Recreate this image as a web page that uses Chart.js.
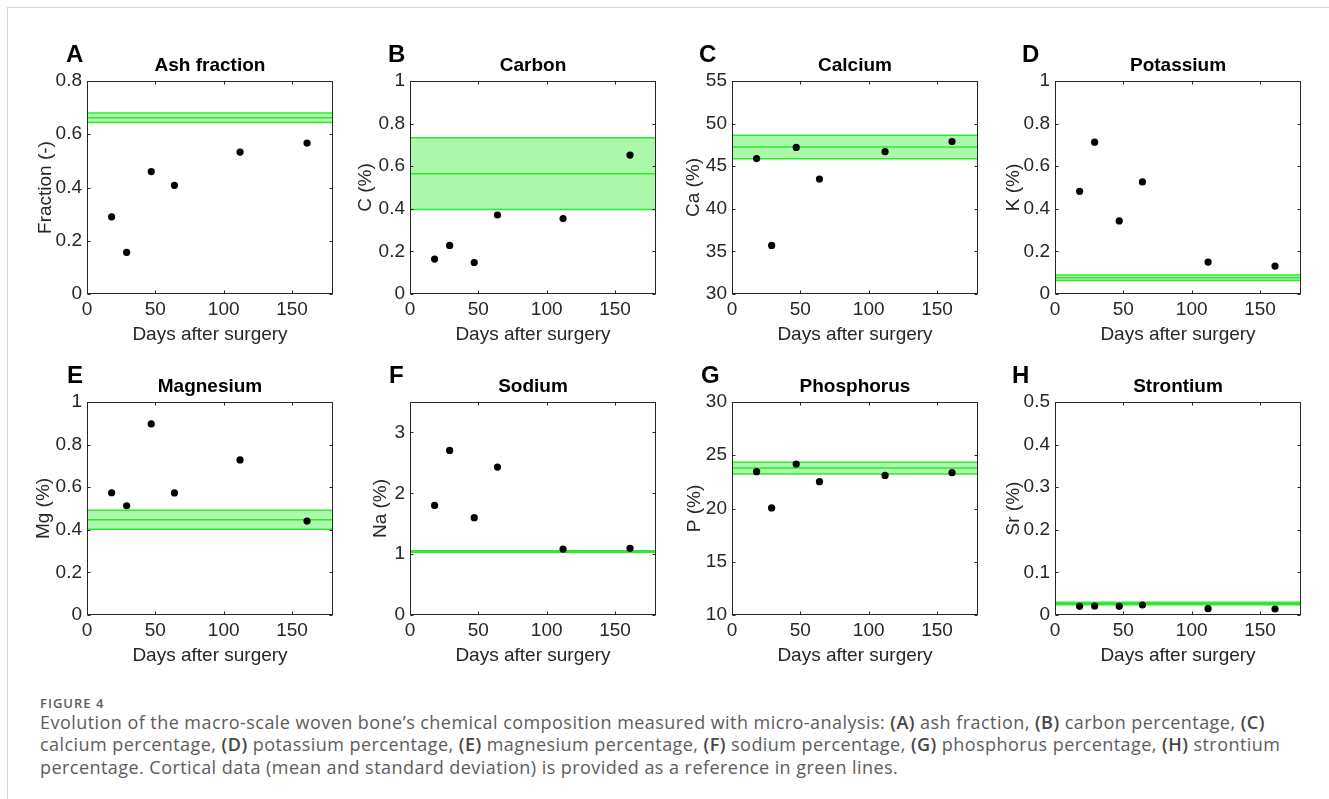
<!DOCTYPE html>
<html>
<head>
<meta charset="utf-8">
<script src="https://cdn.jsdelivr.net/npm/chart.js@4.4.0/dist/chart.umd.min.js"></script>
<style>
html,body{margin:0;padding:0;background:#fff;}
body{width:1329px;height:799px;position:relative;overflow:hidden;}
#frame{position:absolute;left:7px;top:7px;width:1340px;height:810px;border-top:1px solid #d6d6d6;border-left:1px solid #d6d6d6;}
canvas{position:absolute;}
.letter{position:absolute;font:bold 24px/24px 'Liberation Sans',Arial,sans-serif;color:#000;}
#capfig{position:absolute;left:40px;top:697px;font:600 13px/13px 'Open Sans',sans-serif;letter-spacing:1px;color:#5c5c5c;white-space:nowrap;}
#captxt{position:absolute;left:40px;top:710.5px;font:400 18px/22.5px 'Open Sans',sans-serif;letter-spacing:0.45px;color:#5c5c5c;white-space:nowrap;}
#captxt b{font-weight:600;color:#454545;}
</style>
</head>
<body>
<div id="frame"></div>
<div id="capfig">FIGURE 4</div>
<div id="captxt">Evolution of the macro-scale woven bone’s chemical composition measured with micro-analysis: <b>(A)</b> ash fraction, <b>(B)</b> carbon percentage, <b>(C)</b><br>calcium percentage, <b>(D)</b> potassium percentage, <b>(E)</b> magnesium percentage, <b>(F)</b> sodium percentage, <b>(G)</b> phosphorus percentage, <b>(H)</b> strontium<br>percentage. Cortical data (mean and standard deviation) is provided as a reference in green lines.</div>
<script>
// ---------------- DATA ----------------
const days = [18, 29, 47, 64, 112, 161];
const xTicks = [0, 50, 100, 150];
const xLabel = 'Days after surgery';

const ashFraction = [0.290, 0.156, 0.460, 0.408, 0.533, 0.567];
const ashRef = [0.662, 0.018];           // [mean, sd]
const ashTicks = [0, 0.2, 0.4, 0.6, 0.8];

const carbon = [0.164, 0.228, 0.148, 0.371, 0.354, 0.652];
const carbonRef = [0.565, 0.168];
const carbonTicks = [0, 0.2, 0.4, 0.6, 0.8, 1];

const calcium = [45.9, 35.7, 47.2, 43.5, 46.7, 47.9];
const calciumRef = [47.25, 1.37];
const calciumTicks = [30, 35, 40, 45, 50, 55];

const potassium = [0.482, 0.713, 0.343, 0.526, 0.150, 0.131];
const potassiumRef = [0.076, 0.013];
const potassiumTicks = [0, 0.2, 0.4, 0.6, 0.8, 1];

const magnesium = [0.574, 0.513, 0.897, 0.573, 0.728, 0.441];
const magnesiumRef = [0.447, 0.045];
const magnesiumTicks = [0, 0.2, 0.4, 0.6, 0.8, 1];

const sodium = [1.80, 2.705, 1.60, 2.43, 1.084, 1.095];
const sodiumRef = [1.045, 0.012];
const sodiumTicks = [0, 1, 2, 3];

const phosphorus = [23.46, 20.05, 24.18, 22.52, 23.11, 23.36];
const phosphorusRef = [23.8, 0.55];
const phosphorusTicks = [10, 15, 20, 25, 30];

const strontium = [0.0203, 0.0211, 0.0203, 0.0235, 0.0149, 0.0141];
const strontiumRef = [0.027, 0.003];
const strontiumTicks = [0, 0.1, 0.2, 0.3, 0.4, 0.5];

const panelLetters = ['A', 'B', 'C', 'D', 'E', 'F', 'G', 'H'];
const panelTitles = ['Ash fraction', 'Carbon', 'Calcium', 'Potassium', 'Magnesium', 'Sodium', 'Phosphorus', 'Strontium'];
const yLabels = ['Fraction (-)', 'C (%)', 'Ca (%)', 'K (%)', 'Mg (%)', 'Na (%)', 'P (%)', 'Sr (%)'];
const seriesList = [ashFraction, carbon, calcium, potassium, magnesium, sodium, phosphorus, strontium];
const refList = [ashRef, carbonRef, calciumRef, potassiumRef, magnesiumRef, sodiumRef, phosphorusRef, strontiumRef];
const tickList = [ashTicks, carbonTicks, calciumTicks, potassiumTicks, magnesiumTicks, sodiumTicks, phosphorusTicks, strontiumTicks];
const yRanges = [[0, 0.8], [0, 1], [30, 55], [0, 1], [0, 1], [0, 3.5], [10, 30], [0, 0.5]];
const xRange = [0, 180];

// ---------------- LAYOUT ----------------
const PLOT_LEFT = [87, 410, 732, 1055];
const PLOT_W = 246;
const ROW_TOP = [81, 402];
const PLOT_H = 213;
const LABEL_X = [45, 365, 693, 1013, 43, 380, 694, 1013];
const LETTER_X = [66, 388, 699, 1022, 67, 389, 701, 1012];
const LETTER_YC = [54, 374.5];
const X_AXIS_H = 52;

const FONT = "'Liberation Sans', Arial, Helvetica, sans-serif";
const AXIS_COLOR = '#262626';
const GREEN_LINE = '#2fe82f';
const GREEN_FILL = 'rgba(0,235,0,0.33)';

const boxPlugin = {
  id: 'matlabBox',
  afterDatasetsDraw(chart) {
    const {ctx, chartArea: {left, right, top, bottom}, scales: {x, y}} = chart;
    ctx.save();
    ctx.strokeStyle = AXIS_COLOR;
    ctx.lineWidth = 1;
    const L = Math.round(left) + 0.5, R = Math.round(right) - 0.5;
    const T = Math.round(top) + 0.5, B = Math.round(bottom) - 0.5;
    ctx.strokeRect(L, T, R - L, B - T);
    ctx.beginPath();
    x.ticks.forEach(t => {
      const px = Math.round(x.getPixelForValue(t.value)) + 0.5;
      ctx.moveTo(px, B); ctx.lineTo(px, B - 3);
      ctx.moveTo(px, T); ctx.lineTo(px, T + 3);
    });
    y.ticks.forEach(t => {
      const py = Math.round(y.getPixelForValue(t.value)) + 0.5;
      ctx.moveTo(L, py); ctx.lineTo(L + 3, py);
      ctx.moveTo(R, py); ctx.lineTo(R - 3, py);
    });
    ctx.stroke();
    ctx.restore();
  }
};

function fmt(v) { return String(Number(v.toFixed(4))); }

function makePanel(i) {
  const row = Math.floor(i / 4), col = i % 4;
  const plotLeft = PLOT_LEFT[col];
  const plotRight = plotLeft + PLOT_W;
  const plotTop = ROW_TOP[row];
  const canvasLeft = Math.round(LABEL_X[i] - 11.4);
  const canvasTop = plotTop - 41;
  const W = plotRight + 10 - canvasLeft;
  const H = 41 + PLOT_H + X_AXIS_H;
  const yAxisW = plotLeft - canvasLeft;

  const cv = document.createElement('canvas');
  cv.width = W; cv.height = H;
  cv.style.left = canvasLeft + 'px';
  cv.style.top = canvasTop + 'px';
  cv.style.width = W + 'px';
  cv.style.height = H + 'px';
  document.body.appendChild(cv);

  const letter = document.createElement('div');
  letter.className = 'letter';
  letter.textContent = panelLetters[i];
  letter.style.left = LETTER_X[i] + 'px';
  letter.style.top = (LETTER_YC[row] - 11.7) + 'px';
  document.body.appendChild(letter);

  const vals = seriesList[i];
  const [mean, sd] = refList[i];
  const pts = days.map((d, k) => ({x: d, y: vals[k]}));
  const hline = v => [{x: xRange[0], y: v}, {x: xRange[1], y: v}];

  new Chart(cv, {
    type: 'scatter',
    data: {
      datasets: [
        {data: pts, showLine: false, pointRadius: 3.6, pointHoverRadius: 3.6,
         pointBackgroundColor: '#000', pointBorderWidth: 0, borderColor: '#000'},
        {data: hline(mean), showLine: true, borderColor: GREEN_LINE, borderWidth: 1.5, pointRadius: 0, fill: false},
        {data: hline(mean + sd), showLine: true, borderColor: GREEN_LINE, borderWidth: 1.5, pointRadius: 0, fill: false},
        {data: hline(mean - sd), showLine: true, borderColor: GREEN_LINE, borderWidth: 1.5, pointRadius: 0,
         fill: '-1', backgroundColor: GREEN_FILL}
      ]
    },
    options: {
      responsive: false,
      animation: false,
      events: [],
      layout: {padding: {top: 14.6, right: 10, left: 0, bottom: 0}},
      plugins: {
        legend: {display: false},
        tooltip: {enabled: false},
        title: {
          display: true, text: panelTitles[i], fullSize: false, color: '#000',
          font: {family: FONT, size: 19, weight: 'bold'},
          padding: {top: 0, bottom: 3.6}
        }
      },
      scales: {
        x: {
          type: 'linear', min: xRange[0], max: xRange[1],
          afterBuildTicks: s => { s.ticks = xTicks.map(v => ({value: v})); },
          afterFit: s => { s.height = X_AXIS_H; },
          grid: {display: false, drawTicks: false, tickLength: 0}, border: {display: false},
          ticks: {color: AXIS_COLOR, font: {family: FONT, size: 19}, padding: 4, maxRotation: 0, autoSkip: false, callback: fmt},
          title: {display: true, text: xLabel, color: AXIS_COLOR, font: {family: FONT, size: 19}, padding: 0}
        },
        y: {
          type: 'linear', min: yRanges[i][0], max: yRanges[i][1],
          afterBuildTicks: s => { s.ticks = tickList[i].map(v => ({value: v})); },
          afterFit: s => { s.width = yAxisW; },
          grid: {display: false, drawTicks: false, tickLength: 0}, border: {display: false},
          ticks: {color: AXIS_COLOR, font: {family: FONT, size: 19}, padding: 5, autoSkip: false, callback: fmt},
          title: {display: true, text: yLabels[i], color: AXIS_COLOR, font: {family: FONT, size: 19}, padding: 0}
        }
      }
    },
    plugins: [boxPlugin]
  });
}

for (let i = 0; i < 8; i++) makePanel(i);
</script>
</body>
</html>
